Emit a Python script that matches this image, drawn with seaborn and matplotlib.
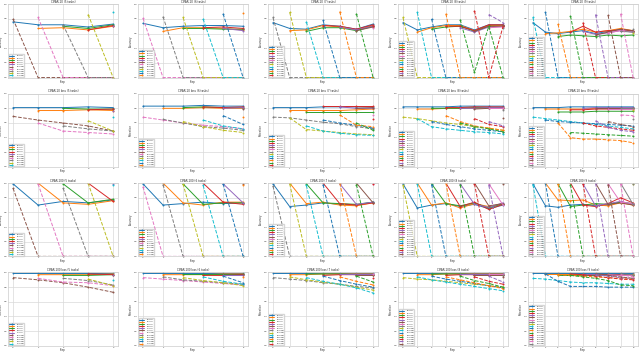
import numpy as np
import seaborn as sns
import matplotlib.pyplot as plt

# steps per column
n_steps = [5, 6, 7, 8, 9]

titles = [
    ["CIFAR-10 (5 tasks)", "CIFAR-10 (6 tasks)", "CIFAR-10 (7 tasks)", "CIFAR-10 (8 tasks)", "CIFAR-10 (9 tasks)"],
    ["CIFAR-10 loss (5 tasks)", "CIFAR-10 loss (6 tasks)", "CIFAR-10 loss (7 tasks)", "CIFAR-10 loss (8 tasks)", "CIFAR-10 loss (9 tasks)"],
    ["CIFAR-100 (5 tasks)", "CIFAR-100 (6 tasks)", "CIFAR-100 (7 tasks)", "CIFAR-100 (8 tasks)", "CIFAR-100 (9 tasks)"],
    ["CIFAR-100 loss (5 tasks)", "CIFAR-100 loss (6 tasks)", "CIFAR-100 loss (7 tasks)", "CIFAR-100 loss (8 tasks)", "CIFAR-100 loss (9 tasks)"],
]
ylabels = ["Accuracy", "Retention", "Accuracy", "Retention"]

# each series starts at the step equal to its index in the list
# ---------------- row 1 ----------------
s00 = [[0.76, 0.72, 0.72, 0.69, 0.73], [0.67, 0.68, 0.65, 0.70], [0.70, 0.67, 0.72], [0.65, 0.71], [0.70]]
d00 = [[0.80, 0, 0, 0, 0], [0.82, 0, 0, 0], [0.72, 0, 0], [0.86, 0], [0.89]]

s01 = [[0.74, 0.68, 0.70, 0.71, 0.71, 0.70], [0.63, 0.68, 0.68, 0.67, 0.65], [0.67, 0.67, 0.66, 0.66],
       [0.68, 0.69, 0.67], [0.67, 0.64], [0.66]]
d01 = [[0.81, 0, 0, 0, 0, 0], [0.83, 0, 0, 0, 0], [0.82, 0, 0, 0], [0.80, 0, 0], [0.87, 0], [0.88]]

s02 = [[0.75, 0.67, 0.66, 0.72, 0.70, 0.66, 0.73], [0.64, 0.65, 0.71, 0.69, 0.65, 0.71],
       [0.63, 0.68, 0.68, 0.64, 0.70], [0.71, 0.70, 0.66, 0.72], [0.69, 0.65, 0.70], [0.64, 0.69], [0.68]]
d02 = [[0.82, 0, 0, 0, 0, 0, 0], [0.89, 0, 0, 0, 0, 0], [0.76, 0, 0, 0, 0], [0.78, 0, 0, 0],
       [0.90, 0, 0], [0.87, 0], [0.70]]

s03 = [[0.75, 0.65, 0.69, 0.72, 0.72, 0.65, 0.72, 0.72], [0.62, 0.68, 0.71, 0.71, 0.64, 0.71, 0.71],
       [0.66, 0.69, 0.70, 0.63, 0.70, 0.70], [0.70, 0.70, 0.64, 0.72, 0.72], [0.68, 0.62, 0.69, 0.70],
       [0.63, 0.70, 0.70], [0.68, 0.69], [0.68]]
d03 = [[0.82, 0, 0, 0, 0, 0, 0, 0], [0.89, 0, 0, 0, 0, 0, 0], [0.80, 0, 0, 0, 0, 0], [0.87, 0, 0, 0, 0],
       [0.79, 0.07, 0.70, 0.0], [0.91, 0.0, 0.70], [0.86, 0.75], [0.72]]

s04 = [[0.75, 0.62, 0.60, 0.62, 0.64, 0.60, 0.63, 0.66, 0.63], [0.60, 0.61, 0.63, 0.66, 0.62, 0.64, 0.67, 0.64],
       [0.56, 0.58, 0.57, 0.56, 0.58, 0.57, 0.58], [0.62, 0.70, 0.62, 0.64, 0.65, 0.64],
       [0.63, 0.59, 0.61, 0.64, 0.62], [0.58, 0.62, 0.66, 0.64], [0.61, 0.64, 0.62], [0.63, 0.62], [0.61]]
d04 = [[0.82, 0, 0, 0, 0, 0, 0, 0, 0], [0.89, 0, 0, 0, 0, 0, 0, 0], [0.73, 0, 0, 0, 0, 0, 0],
       [0.84, 0, 0, 0, 0, 0], [0.75, 0, 0, 0, 0], [0.86, 0, 0, 0], [0.85, 0, 0], [0.87, 0], [0.66]]

# ---------------- row 2 ----------------
s10 = [[0.81, 0.81, 0.81, 0.82, 0.81], [0.77, 0.77, 0.78, 0.77], [0.80, 0.79, 0.79], [0.78, 0.79], [0.77]]
d10 = [[0.69, 0.64, 0.60, 0.56, 0.49], [0.60, 0.49, 0.47, 0.45], [0.56, 0.52, 0.49], [0.63, 0.49], [0.68]]

s11 = [[0.83, 0.83, 0.83, 0.84, 0.83, 0.83], [0.80, 0.80, 0.81, 0.80, 0.80], [0.81, 0.82, 0.81, 0.81],
       [0.82, 0.81, 0.82], [0.80, 0.81], [0.79]]
d11 = [[0.68, 0.64, 0.60, 0.57, 0.55, 0.52], [0.65, 0.60, 0.55, 0.53, 0.50], [0.62, 0.55, 0.50, 0.47],
       [0.64, 0.56, 0.52], [0.70, 0.58], [0.68]]

s12 = [[0.81, 0.81, 0.81, 0.82, 0.82, 0.82, 0.82], [0.77, 0.77, 0.77, 0.77, 0.78, 0.79],
       [0.75, 0.75, 0.75, 0.75, 0.75], [0.83, 0.83, 0.83, 0.83], [0.82, 0.80, 0.80], [0.80, 0.81], [0.71]]
d12 = [[0.68, 0.67, 0.64, 0.61, 0.59, 0.55, 0.52], [0.67, 0.51, 0.49, 0.47, 0.45, 0.44],
       [0.56, 0.49, 0.46, 0.44, 0.43], [0.64, 0.60, 0.57, 0.53], [0.71, 0.57, 0.55], [0.60, 0.50], [0.66]]

s13 = [[0.82, 0.82, 0.82, 0.82, 0.83, 0.83, 0.83, 0.83], [0.79, 0.79, 0.80, 0.80, 0.80, 0.81, 0.81],
       [0.80, 0.80, 0.80, 0.81, 0.81, 0.81], [0.81, 0.81, 0.82, 0.82, 0.82], [0.80, 0.80, 0.81, 0.81],
       [0.79, 0.80, 0.80], [0.80, 0.80], [0.78]]
d13 = [[0.68, 0.66, 0.63, 0.60, 0.58, 0.55, 0.53, 0.50], [0.66, 0.55, 0.52, 0.50, 0.48, 0.47, 0.45],
       [0.62, 0.58, 0.55, 0.52, 0.50, 0.48], [0.70, 0.62, 0.56, 0.53, 0.50], [0.60, 0.55, 0.52, 0.48],
       [0.66, 0.58, 0.55], [0.62, 0.56], [0.67]]

s14 = [[0.81, 0.81, 0.81, 0.82, 0.82, 0.82, 0.82, 0.82, 0.82], [0.79, 0.79, 0.79, 0.79, 0.80, 0.80, 0.80, 0.80],
       [0.75, 0.75, 0.75, 0.76, 0.76, 0.76, 0.76], [0.78, 0.78, 0.79, 0.79, 0.79, 0.79],
       [0.80, 0.81, 0.81, 0.81, 0.81], [0.80, 0.80, 0.80, 0.80], [0.79, 0.79, 0.79], [0.80, 0.80], [0.78]]
d14 = [[0.68, 0.66, 0.64, 0.62, 0.60, 0.58, 0.56, 0.54, 0.52], [0.64, 0.62, 0.61, 0.60, 0.59, 0.58, 0.57, 0.56],
       [0.60, 0.40, 0.38, 0.38, 0.37, 0.36, 0.33], [0.47, 0.46, 0.45, 0.44, 0.43, 0.42],
       [0.60, 0.56, 0.54, 0.52, 0.50], [0.63, 0.54, 0.50, 0.48], [0.62, 0.58, 0.55], [0.71, 0.70], [0.65]]

# ---------------- row 3 ----------------
s20 = [[0.99, 0.70, 0.75, 0.73, 0.77], [1.00, 0.73, 0.71, 0.76], [0.99, 0.73, 0.78], [1.00, 0.75], [0.99]]
d20 = [[0.93, 0, 0, 0, 0], [0.99, 0, 0, 0], [0.93, 0, 0], [1.00, 0], [0.98]]

s21 = [[0.99, 0.70, 0.72, 0.74, 0.72, 0.73], [1.00, 0.73, 0.70, 0.74, 0.74], [0.99, 0.71, 0.73, 0.73],
       [1.00, 0.74, 0.71], [0.99, 0.73], [0.99]]
d21 = [[0.95, 0, 0, 0, 0, 0], [0.98, 0, 0, 0, 0], [0.99, 0, 0, 0], [0.97, 0, 0], [0.99, 0], [0.98]]

s22 = [[0.99, 0.68, 0.70, 0.73, 0.71, 0.70, 0.74], [1.00, 0.72, 0.74, 0.70, 0.69, 0.73],
       [0.99, 0.73, 0.72, 0.71, 0.74], [1.00, 0.72, 0.70, 0.73], [0.99, 0.71, 0.74], [1.00, 0.73], [0.99]]
d22 = [[0.96, 0, 0, 0, 0, 0, 0], [0.99, 0, 0, 0, 0, 0], [0.97, 0, 0, 0, 0], [0.98, 0, 0, 0],
       [1.00, 0, 0], [0.98, 0], [0.99]]

s23 = [[0.99, 0.66, 0.70, 0.72, 0.68, 0.71, 0.65, 0.70], [1.00, 0.70, 0.73, 0.66, 0.72, 0.68, 0.71],
       [0.99, 0.72, 0.69, 0.73, 0.66, 0.72], [1.00, 0.68, 0.74, 0.64, 0.71], [0.99, 0.71, 0.67, 0.73],
       [1.00, 0.69, 0.72], [0.99, 0.70], [1.00]]
d23 = [[0.97, 0, 0, 0, 0, 0, 0, 0], [0.99, 0, 0, 0, 0, 0, 0], [0.98, 0, 0, 0, 0, 0], [1.00, 0, 0, 0, 0],
       [0.98, 0, 0, 0], [0.99, 0, 0], [0.97, 0], [0.99]]

s24 = [[0.99, 0.69, 0.67, 0.70, 0.71, 0.69, 0.70, 0.74, 0.71], [1.00, 0.77, 0.76, 0.77, 0.70, 0.69, 0.73, 0.70],
       [0.99, 0.68, 0.70, 0.72, 0.71, 0.74, 0.72], [1.00, 0.70, 0.68, 0.72, 0.80, 0.73],
       [0.99, 0.69, 0.72, 0.75, 0.71], [1.00, 0.71, 0.73, 0.70], [0.99, 0.74, 0.72], [1.00, 0.71], [0.99]]
d24 = [[0.98, 0, 0, 0, 0, 0, 0, 0, 0], [1.00, 0, 0, 0, 0, 0, 0, 0], [0.99, 0, 0, 0, 0, 0, 0],
       [0.98, 0, 0, 0, 0, 0], [0.99, 0, 0, 0, 0], [1.00, 0, 0, 0], [0.98, 0, 0], [0.99, 0], [0.99]]

# ---------------- row 4 ----------------
s30 = [[0.99, 0.99, 0.99, 0.99, 0.99], [0.97, 0.97, 0.97, 0.98], [0.96, 0.96, 0.97], [0.98, 0.97], [0.97]]
d30 = [[0.93, 0.90, 0.86, 0.80, 0.73], [0.92, 0.87, 0.86, 0.82], [0.92, 0.89, 0.83], [0.91, 0.82], [0.90]]

s31 = [[0.99, 0.99, 0.99, 0.99, 0.99, 0.99], [0.97, 0.97, 0.97, 0.98, 0.98], [0.98, 0.98, 0.98, 0.98],
       [0.96, 0.96, 0.97], [0.97, 0.97], [0.98]]
d31 = [[0.93, 0.91, 0.89, 0.87, 0.85, 0.83], [0.94, 0.90, 0.88, 0.86, 0.84], [0.93, 0.89, 0.86, 0.82],
       [0.94, 0.88, 0.84], [0.95, 0.86], [0.94]]

s32 = [[0.99, 0.99, 0.99, 0.99, 0.99, 0.99, 0.99], [0.97, 0.97, 0.98, 0.98, 0.98, 0.98],
       [0.98, 0.98, 0.98, 0.97, 0.97], [0.96, 0.97, 0.97, 0.97], [0.98, 0.98, 0.98], [0.97, 0.97], [0.98]]
d32 = [[0.93, 0.91, 0.89, 0.86, 0.84, 0.81, 0.79], [0.94, 0.90, 0.87, 0.84, 0.80, 0.76],
       [0.93, 0.88, 0.84, 0.79, 0.72], [0.95, 0.89, 0.84, 0.80], [0.94, 0.88, 0.83], [0.95, 0.87], [0.93]]

s33 = [[0.99, 0.99, 0.99, 0.99, 0.99, 0.99, 0.99, 0.99], [0.97, 0.97, 0.98, 0.98, 0.98, 0.98, 0.98],
       [0.98, 0.98, 0.98, 0.97, 0.97, 0.97], [0.96, 0.97, 0.97, 0.97, 0.97], [0.98, 0.98, 0.98, 0.98],
       [0.97, 0.97, 0.97], [0.98, 0.98], [0.97]]
d33 = [[0.93, 0.91, 0.90, 0.88, 0.86, 0.84, 0.82, 0.80], [0.94, 0.90, 0.87, 0.84, 0.81, 0.78, 0.75],
       [0.95, 0.91, 0.88, 0.85, 0.82, 0.79], [0.94, 0.90, 0.86, 0.82, 0.78], [0.95, 0.89, 0.85, 0.80],
       [0.94, 0.88, 0.84], [0.95, 0.87], [0.94]]

s34 = [[0.99, 0.99, 0.99, 0.99, 0.99, 0.99, 0.99, 0.99, 0.99], [0.98, 0.98, 0.98, 0.98, 0.98, 0.98, 0.98, 0.98],
       [0.97, 0.97, 0.97, 0.97, 0.97, 0.97, 0.97], [0.98, 0.97, 0.97, 0.97, 0.97, 0.96],
       [0.97, 0.97, 0.96, 0.96, 0.96], [0.98, 0.97, 0.97, 0.97], [0.97, 0.96, 0.96], [0.98, 0.97], [0.97]]
d34 = [[0.92, 0.91, 0.89, 0.87, 0.86, 0.86, 0.85, 0.84, 0.84], [0.98, 0.88, 0.81, 0.81, 0.81, 0.80, 0.80, 0.80],
       [0.97, 0.96, 0.95, 0.94, 0.93, 0.92, 0.91], [0.96, 0.94, 0.92, 0.89, 0.83, 0.82],
       [0.97, 0.95, 0.93, 0.91, 0.90], [0.97, 0.95, 0.93, 0.92], [0.96, 0.94, 0.92], [0.97, 0.94], [0.96]]

solid = [[s00, s01, s02, s03, s04], [s10, s11, s12, s13, s14], [s20, s21, s22, s23, s24], [s30, s31, s32, s33, s34]]
dashed = [[d00, d01, d02, d03, d04], [d10, d11, d12, d13, d14], [d20, d21, d22, d23, d24], [d30, d31, d32, d33, d34]]

sns.set_theme(style="whitegrid")
plt.rcParams['font.family'] = ['DejaVu Sans']
plt.rcParams['grid.linewidth'] = 0.5
plt.rcParams['grid.color'] = '#d9d9d9'
plt.rcParams['axes.linewidth'] = 0.5

pal = sns.color_palette("tab10", 10)

fig, axes = plt.subplots(4, 5, figsize=(6.4, 3.55), dpi=100)
fig.subplots_adjust(left=0.0125, right=0.997, top=0.988, bottom=0.026, wspace=0.18, hspace=0.22)

for r in range(4):
    for c in range(5):
        ax = axes[r][c]
        n = n_steps[c]
        for i, vals in enumerate(solid[r][c]):
            sns.lineplot(x=list(range(i, i + len(vals))), y=vals, ax=ax, color=pal[i % 10],
                         marker='o', markersize=1.4, markeredgewidth=0, linewidth=0.7,
                         label=f"T{i + 1} acc")
        for i, vals in enumerate(dashed[r][c]):
            sns.lineplot(x=list(range(i, i + len(vals))), y=vals, ax=ax, color=pal[(n + i) % 10],
                         marker='o', markersize=1.4, markeredgewidth=0, linewidth=0.7,
                         linestyle='--', label=f"T{i + 1} new")
        ax.set_ylim(0, 1)
        ax.set_xlim(-0.05 * (n - 1), (n - 1) * 1.05)
        ax.set_xticks(range(n))
        ax.set_yticks([0, 0.2, 0.4, 0.6, 0.8, 1.0])
        ax.tick_params(labelsize=1.6, pad=0.6, length=0)
        ax.set_title(titles[r][c], fontsize=2.0, pad=1)
        ax.set_xlabel("Step", fontsize=1.8, labelpad=0.5)
        ax.set_ylabel(ylabels[r], fontsize=1.8, labelpad=0.6)
        ax.legend(loc='lower left', fontsize=1.5, labelspacing=0.35, handlelength=2.2,
                  borderaxespad=0.4, borderpad=0.3, framealpha=0.8)

plt.savefig("out.png", dpi=100)
